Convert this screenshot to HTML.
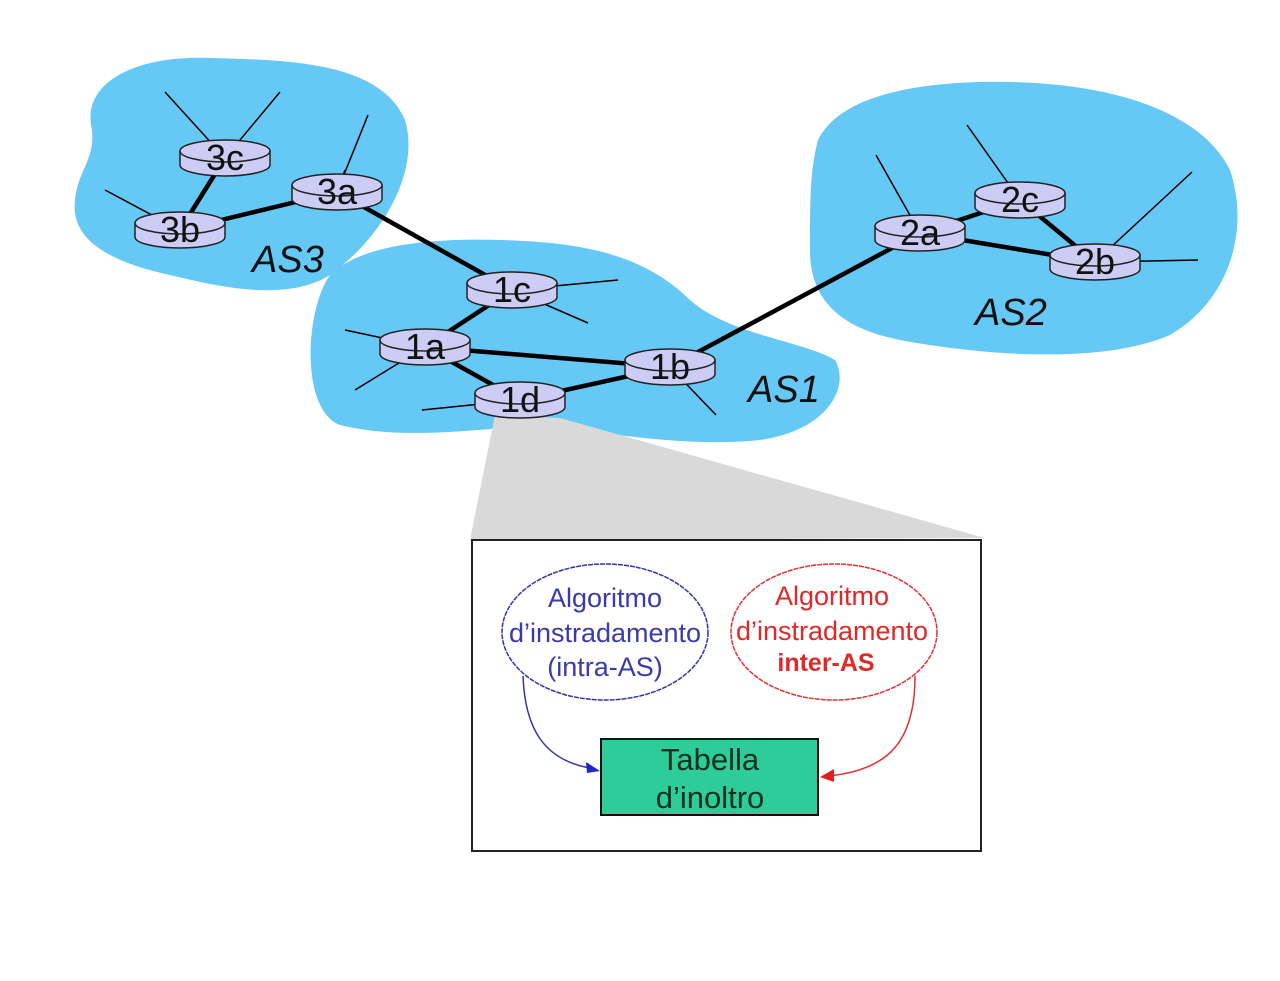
<!DOCTYPE html>
<html><head><meta charset="utf-8"><style>
html,body{margin:0;padding:0;background:#fff;}
svg{display:block;font-family:"Liberation Sans",sans-serif;}
</style></head><body>
<svg id="s" width="1280" height="981" viewBox="0 0 1280 981">
<path fill="#66c8f5" d="M92,130 C80,80 140,55 210,58 C290,60 380,62 405,120 C420,170 385,235 330,275 C290,300 230,290 170,275 C110,262 70,240 75,200 C78,170 95,160 92,130 Z"/>
<path fill="#66c8f5" d="M330,275 C360,245 430,238 500,240 C570,242 640,250 690,300 C730,335 800,340 835,360 C850,385 830,430 760,440 C690,448 600,432 540,425 C470,430 400,440 340,425 C300,410 305,310 330,275 Z"/>
<path fill="#66c8f5" d="M818,140 C840,95 920,80 1010,82 C1110,84 1200,110 1230,170 C1250,230 1230,300 1170,335 C1100,365 980,355 900,340 C840,328 810,300 810,250 C810,200 810,170 818,140 Z"/>
<polygon fill="#d9d9d9" points="495,415 560,418 985,538 470,540"/>
<g id="links" stroke="#000" fill="none"></g>
<g id="routers"></g>
<text x="252" y="272" font-size="38" font-style="italic" fill="#111">AS3</text>
<text x="748" y="402" font-size="38" font-style="italic" fill="#111">AS1</text>
<text x="975" y="325" font-size="38" font-style="italic" fill="#111">AS2</text>
<rect x="472" y="540" width="509" height="311" fill="#fff" stroke="#222" stroke-width="2"/>
<ellipse cx="605" cy="632" rx="103" ry="68" fill="none" stroke="#3333aa" stroke-width="1.5" stroke-dasharray="5,1"/>
<ellipse cx="834" cy="632" rx="103" ry="68" fill="none" stroke="#e03030" stroke-width="1.5" stroke-dasharray="5,1"/>
<g fill="#3a3aaa" font-size="27" text-anchor="middle">
<text x="605" y="607">Algoritmo</text>
<text x="605" y="642">d’instradamento</text>
<text x="605" y="676">(intra-AS)</text>
</g>
<g fill="#e02828" font-size="27" text-anchor="middle">
<text x="832" y="605">Algoritmo</text>
<text x="832" y="640">d’instradamento</text>
<text x="826" y="671" font-weight="bold" font-size="25">inter-AS</text>
</g>
<path d="M523,676 C525,730 545,760 590,768" fill="none" stroke="#3333aa" stroke-width="1.5"/>
<polygon points="600,771 586,762 587,773" fill="#2222cc"/>
<path d="M915,676 C915,740 890,770 828,776" fill="none" stroke="#e03030" stroke-width="1.5"/>
<polygon points="820,777 834,769 834,782" fill="#e02020"/>
<rect x="601" y="739" width="217" height="76" fill="#2ecc99" stroke="#111" stroke-width="2"/>
<g fill="#0a3020" font-size="31" text-anchor="middle">
<text x="710" y="770">Tabella</text>
<text x="710" y="808">d’inoltro</text>
</g>
</svg>
<script>
const ns="http://www.w3.org/2000/svg";
const routerNames=["3c","3a","3b","1c","1a","1b","1d","2a","2c","2b"];
const routerX=[225,337,180,512,425,670,520,920,1020,1095];
const routerY=[158,192,230,290,347,367,400,233,200,262];
const thickLinks=[["3c","3b"],["3b","3a"],["3a","1c"],["1c","1a"],["1a","1b"],["1a","1d"],["1d","1b"],["1b","2a"],["2a","2c"],["2a","2b"],["2c","2b"]];
const stubLinks=[["3c",165,92],["3c",280,92],["3a",368,115],["3a",345,170],["3b",105,190],["1c",618,280],["1c",588,323],["1a",345,330],["1a",355,390],["1d",422,410],["1b",716,415],["2a",876,155],["2c",967,125],["2b",1192,172],["2b",1198,260]];
function pos(n){const i=routerNames.indexOf(n);return [routerX[i],routerY[i]];}
const links=document.getElementById('links');
stubLinks.forEach(([n,x,y])=>{const [a,b]=pos(n);const l=document.createElementNS(ns,'line');


l.setAttribute('x1',a);l.setAttribute('y1',b);l.setAttribute('x2',x);l.setAttribute('y2',y);l.setAttribute('stroke-width','1.5');links.appendChild(l);});
thickLinks.forEach(([p,q])=>{const [a,b]=pos(p),[c,d]=pos(q);const l=document.createElementNS(ns,'line');


l.setAttribute('x1',a);l.setAttribute('y1',b);l.setAttribute('x2',c);l.setAttribute('y2',d);l.setAttribute('stroke-width','4.5');links.appendChild(l);});
const rg=document.getElementById('routers');
routerNames.forEach((n,i)=>{const x=routerX[i],y=routerY[i];const g=document.createElementNS(ns,'g');


const rx=45,ry=11,h=7;
g.innerHTML=`<path d="M${x-rx},${y-h} L${x-rx},${y+h} A${rx},${ry} 0 0 0 ${x+rx},${y+h} L${x+rx},${y-h} Z" fill="#ccccf5" stroke="#222" stroke-width="1.5"/>
<ellipse cx="${x}" cy="${y-h}" rx="${rx}" ry="${ry}" fill="#ccccf5" stroke="#222" stroke-width="1.5"/>
<text x="${x}" y="${y+12}" text-anchor="middle" font-size="36" fill="#111">${n}</text>`;
rg.appendChild(g);});
</script>
</body></html>
